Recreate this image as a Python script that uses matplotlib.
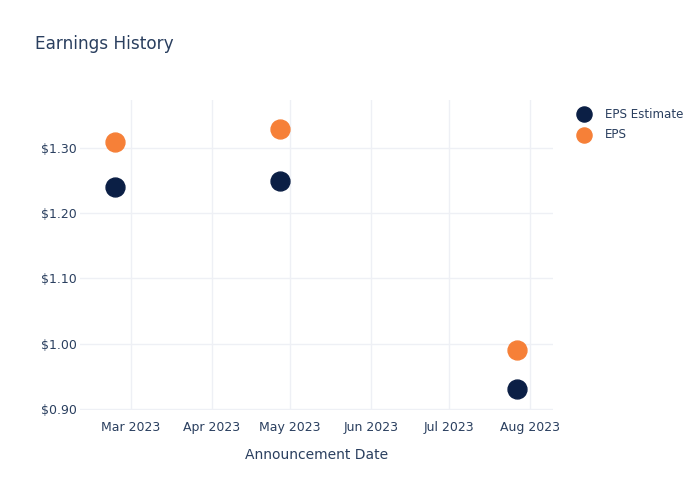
import pandas as pd
import matplotlib.pyplot as plt
import matplotlib.dates as mdates
from matplotlib.ticker import FuncFormatter

dates = pd.to_datetime(['2023-02-23', '2023-04-27', '2023-07-27'])
eps_estimate = [1.24, 1.25, 0.93]
eps_actual = [1.31, 1.33, 0.99]

text_color = '#2a3f5f'
grid_color = '#eef0f5'

fig = plt.figure(figsize=(7, 5), dpi=100)
ax = fig.add_axes([80 / 700, 90 / 500, 473 / 700, 310 / 500])

ax.scatter(dates, eps_estimate, s=185, color='#0b1f45', label='EPS Estimate', zorder=3)
ax.scatter(dates, eps_actual, s=185, color='#f68038', label='EPS', zorder=3)

ax.set_xlim(pd.Timestamp('2023-02-09 12:00'), pd.Timestamp('2023-08-09 18:00'))
ax.set_ylim(0.898, 1.374)
ax.set_yticks([0.9, 1.0, 1.1, 1.2, 1.3])
ax.yaxis.set_major_formatter(FuncFormatter(lambda v, p: f'${v:.2f}'))
ax.xaxis.set_major_locator(mdates.MonthLocator())
ax.xaxis.set_major_formatter(mdates.DateFormatter('%b %Y'))

ax.grid(True, color=grid_color, linewidth=1)
ax.set_axisbelow(True)
for s in ax.spines.values():
    s.set_visible(False)
ax.tick_params(length=0, colors=text_color, labelsize=9)
ax.tick_params(axis='x', pad=8)
ax.tick_params(axis='y', pad=2)

ax.set_xlabel('Announcement Date', color=text_color, fontsize=10, labelpad=10)
fig.text(35 / 700, 1 - 44 / 500, 'Earnings History', color=text_color, fontsize=12.2, va='center')

leg = ax.legend(loc='upper left', bbox_to_anchor=(1.027, 0.995), frameon=False,
                fontsize=8.6, labelcolor=text_color, handletextpad=0.75,
                labelspacing=0.62, markerscale=0.8, borderaxespad=0.1)

fig.savefig('out.png', dpi=100)
